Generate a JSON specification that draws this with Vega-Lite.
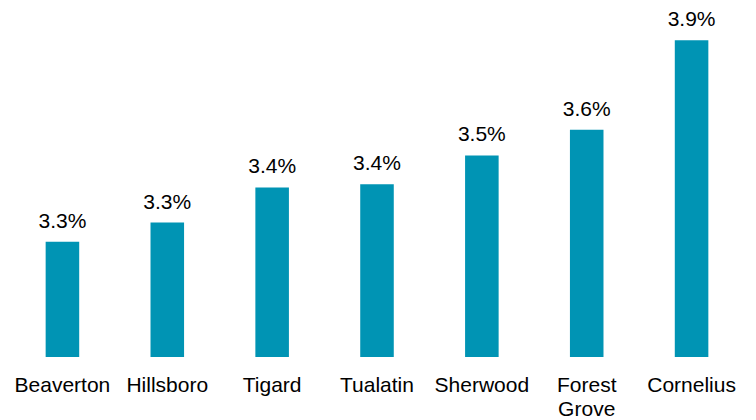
{
  "$schema": "https://vega.github.io/schema/vega-lite/v6.json",
  "width": 734,
  "height": 352,
  "padding": {"left": 10, "top": 5, "right": 0, "bottom": 0},
  "background": "white",
  "config": {"view": {"stroke": null}, "font": "Liberation Sans"},
  "data": {
    "values": [
      {"city": "Beaverton", "rate": 0.0326},
      {"city": "Hillsboro", "rate": 0.0332},
      {"city": "Tigard", "rate": 0.0343},
      {"city": "Tualatin", "rate": 0.0344},
      {"city": "Sherwood", "rate": 0.0353},
      {"city": "Forest Grove", "rate": 0.0361},
      {"city": "Cornelius", "rate": 0.0389}
    ]
  },
  "encoding": {
    "x": {
      "field": "city",
      "type": "nominal",
      "sort": null,
      "scale": {"paddingInner": 0.68, "paddingOuter": 0.34},
      "axis": {
        "title": null,
        "domain": false,
        "ticks": false,
        "labelAngle": 0,
        "labelFontSize": 21,
        "labelColor": "#000000",
        "labelFont": "Liberation Sans",
        "labelBaseline": "alphabetic",
        "labelPadding": 34,
        "labelLineHeight": 24,
        "labelExpr": "split(datum.label, ' ')"
      }
    },
    "y": {
      "field": "rate",
      "type": "quantitative",
      "scale": {"domain": [0.029, 0.04], "zero": false, "nice": false},
      "axis": null
    }
  },
  "layer": [
    {"mark": {"type": "bar", "color": "#0094b4", "clip": true}},
    {
      "mark": {"type": "text", "baseline": "alphabetic", "dy": -14, "fontSize": 21, "color": "#000000", "font": "Liberation Sans"},
      "encoding": {"text": {"field": "rate", "type": "quantitative", "format": ".1%"}}
    }
  ]
}
